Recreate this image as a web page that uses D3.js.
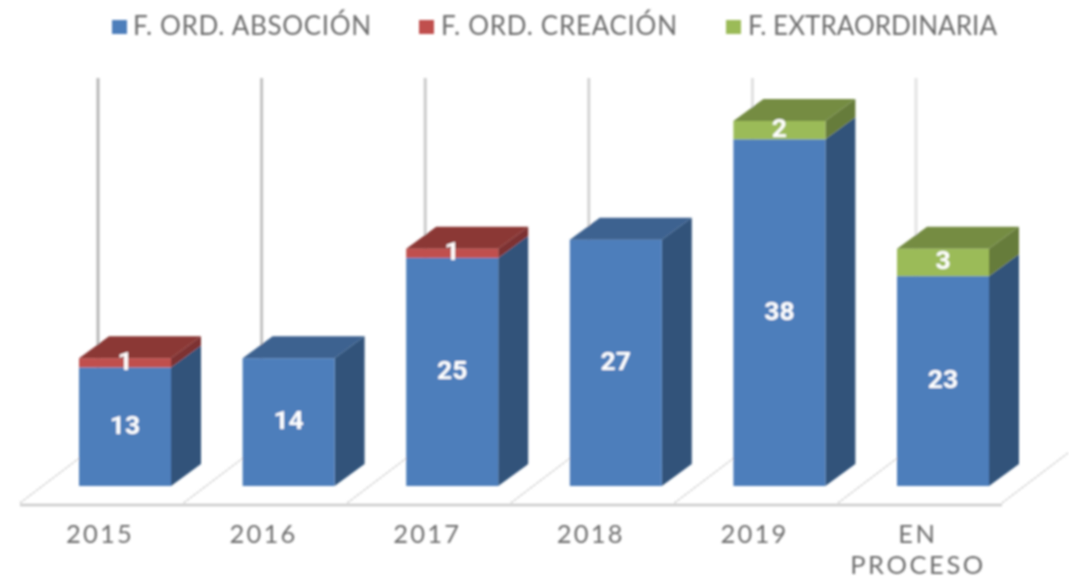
<!DOCTYPE html>
<html><head><meta charset="utf-8">
<script src="https://cdn.jsdelivr.net/npm/d3@7/dist/d3.min.js"></script>
<style>html,body{margin:0;padding:0;background:#fff}svg{display:block}</style>
</head><body><svg id="c" width="1069" height="578"></svg>
<script>
const categories = ["2015","2016","2017","2018","2019","EN PROCESO"];
const seriesNames = ["F. ORD. ABSOCIÓN","F. ORD. CREACIÓN","F. EXTRAORDINARIA"];
const absorcion = [13,14,25,27,38,23];
const creacion = [1,0,1,0,0,0];
const extraordinaria = [0,0,0,0,2,3];

const W=1069,H=578,dx=30,dy=22,base=486,font="Lato, 'Open Sans', sans-serif";
const colors=[{f:"#4d7ebb",t:"#3c6290",s:"#30527a"},{f:"#c0504d",t:"#8b3735",s:"#7d3230"},{f:"#9bbb59",t:"#748c43",s:"#667b3b"}];
const svg=d3.select("#c");
const defs=svg.append("defs");
defs.append("filter").attr("id","soft")
  .attr("filterUnits","userSpaceOnUse").attr("x",0).attr("y",0).attr("width",W).attr("height",H)
  .append("feGaussianBlur").attr("stdDeviation",0.8);
const root=svg.append("g").attr("filter","url(#soft)");

const rows=categories.map((c,i)=>({c,a:absorcion[i],b:creacion[i],e:extraordinaria[i]}));
const stacked=d3.stack().keys(["a","b","e"])(rows);
const x=d3.scaleBand().domain(categories).range([7.4,1060.6]).paddingInner(0.4377).paddingOuter(0.4377);
const y=d3.scaleLinear().domain([0,40]).range([base,base-365]);
const bw=x.bandwidth();

// vertical gridlines at the back wall
const gridCols=["#b8b8b8","#c2c2c2","#cbcbcb","#d4d4d4","#e0e0e0","#e4e4e4"];
root.append("g").selectAll("line").data(categories).join("line")
 .attr("x1",c=>x(c)+19).attr("x2",c=>x(c)+19).attr("y1",78).attr("y2",446)
 .attr("stroke",(c,i)=>gridCols[i]).attr("stroke-width",3);

// floor
const floor=root.append("g");
const floorEdges=[...categories.map(c=>x(c)-59),x(categories[5])+bw+13];
floor.selectAll("line").data(floorEdges).join("line")
 .attr("x1",d=>d).attr("y1",503).attr("x2",d=>d+66).attr("y2",453)
 .attr("stroke","#d4d4d4").attr("stroke-width",1.6).attr("stroke-dasharray","3 1");
floor.append("line").attr("x1",floorEdges[0]).attr("x2",floorEdges[6]).attr("y1",505).attr("y2",505)
 .attr("stroke","#cbcbcb").attr("stroke-width",2.4);

// bars
const poly=p=>p.map(q=>q.join(",")).join(" ");
const barLayer=root.append("g");
stacked.forEach((s,k)=>{
  const col=colors[k];
  s.forEach((d,i)=>{
    if(d[1]===d[0])return;
    const c=categories[i],x0=x(c),x1=x0+bw,yt=y(d[1]),yb=y(d[0]);
    barLayer.append("polygon").attr("points",poly([[x1,yb],[x1+dx,yb-dy],[x1+dx,yt-dy],[x1,yt]])).attr("fill",col.s);
    barLayer.append("rect").attr("x",x0).attr("y",yt).attr("width",bw).attr("height",yb-yt).attr("fill",col.f);
    const isTop=d[1]===rows[i].a+rows[i].b+rows[i].e;
    if(isTop) barLayer.append("polygon").attr("points",poly([[x0,yt],[x0+dx,yt-dy],[x1+dx,yt-dy],[x1,yt]])).attr("fill",col.t);
  });
});
// data labels
stacked.forEach(s=>{
  s.forEach((d,i)=>{
    if(d[1]===d[0])return;
    root.append("text").attr("x",x(categories[i])+bw/2).attr("y",(y(d[0])+y(d[1]))/2-2.5)
     .attr("text-anchor","middle").attr("dominant-baseline","central")
     .attr("font-family","Roboto, "+font).attr("font-weight",700).attr("font-size",26.5).attr("fill","#fff")
     .text(d[1]-d[0]);
  });
});

// category axis
const axis=d3.axisBottom(x).tickSize(0).tickPadding(0);
const ag=root.append("g").attr("transform","translate(-25,520)").call(axis);
ag.select(".domain").remove();
ag.selectAll("text").attr("font-family",font).attr("font-size",25.5).attr("fill","#6e6e6e")
 .attr("y",0).attr("dy",0)
 .each(function(t){
   const parts=t.split(" "),el=d3.select(this).text(null);
   el.attr("letter-spacing",parts.length>1?2.6:2.2);
   parts.forEach((p,j)=>el.append("tspan").attr("x",0).attr("y",23+j*31).text(p));
 });

// legend
const lx=[112,419,726], tx=[133,441,748], tw=[238,236,249];
const lg=root.append("g");
seriesNames.forEach((n,i)=>{
  lg.append("rect").attr("x",lx[i]).attr("y",20).attr("width",15).attr("height",14).attr("fill",colors[i].f);
  lg.append("text").attr("x",tx[i]).attr("y",35).attr("font-family",font).attr("font-size",26).attr("fill","#6e6e6e")
    .attr("textLength",tw[i]).attr("lengthAdjust","spacing").text(n);
});
</script></body></html>
